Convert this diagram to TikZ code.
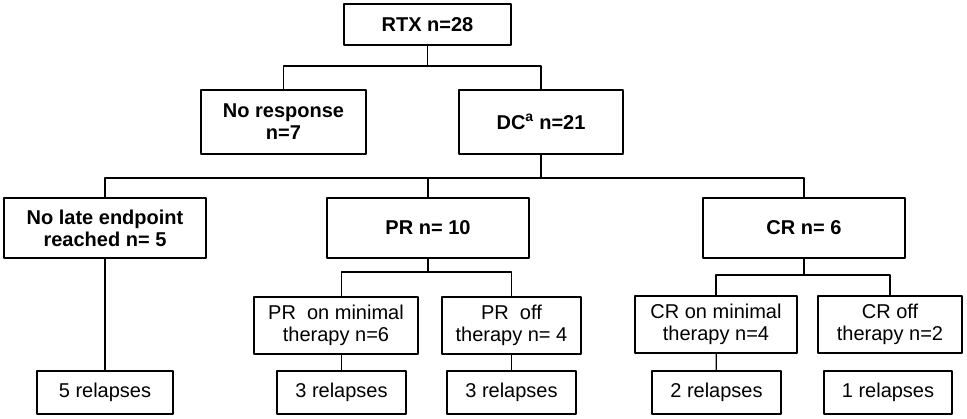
\documentclass[tikz,border=0pt]{standalone}
\usepackage{fontspec}
\setmainfont{Liberation Sans}
\begin{document}
\begin{tikzpicture}[x=1pt,y=-1pt, line width=1.2pt, line join=round, line cap=round,
  font=\fontsize{20}{22}\selectfont,
  boldbox/.style={draw, font=\fontsize{20}{22}\selectfont\bfseries, align=center, inner sep=0pt},
  plainbox/.style={draw, align=center, inner sep=0pt}]
\def \ya{66};
\def \yb{178};
\def \yc{272};
\def \yd{275};
\useasboundingbox (0,0) rectangle (967,418);
% top levels
\node[boldbox, minimum width=167pt, minimum height=41pt] (rtx) at (427.5,24.5) {RTX n=28};
\node[boldbox, minimum width=165pt, minimum height=64pt] (nores) at (283.5,122) {No response\\n=7};
\node[boldbox, minimum width=164pt, minimum height=64pt] (dc) at (541,122) {DC\textsuperscript{a} n=21};
\node[boldbox, minimum width=202pt, minimum height=60pt] (nolate) at (105,228) {No late endpoint\\reached n= 5};
\node[boldbox, minimum width=202pt, minimum height=60pt] (pr) at (428,228) {PR n= 10};
\node[boldbox, minimum width=202pt, minimum height=60pt] (cr) at (804,228) {CR n= 6};
% therapy boxes
\node[plainbox, minimum width=164pt, minimum height=57pt] (prmin) at (336,325.5) {PR\ \ on minimal\\therapy n=6};
\node[plainbox, minimum width=139pt, minimum height=57pt] (proff) at (511.5,325.5) {PR\ \ off\\therapy n= 4};
\node[plainbox, minimum width=162pt, minimum height=57pt] (crmin) at (716,324.5) {CR on minimal\\therapy n=4};
\node[plainbox, minimum width=144pt, minimum height=57pt] (croff) at (890,324.5) {CR off\\therapy n=2};
% relapses
\foreach \n/\x/\w/\t in {rela/105/136/5, relb/341.5/129/3, relc/511.5/129/3, reld/716.5/129/2, rele/888/128/1}
  {\node[plainbox, minimum width=\w pt, minimum height=43pt] (\n) at (\x,392.5) {\t\ relapses};}
% junctions
\coordinate (ja) at (427.5,\ya);
\coordinate (jb) at (541,\yb);
\coordinate (jc) at (428,\yc);
\coordinate (jd) at (804,\yd);
\draw (rtx) -- (ja) -| (nores);
\draw (ja) -| (dc);
\draw (dc) -- (jb) -| (nolate);
\draw (jb) -| (pr);
\draw (jb) -| (cr);
\draw (pr) -- (jc) -| (prmin.north -| relb.north);
\draw (jc) -| (proff);
\draw (cr) -- (jd) -| (crmin);
\draw (jd) -| (croff);
\draw (nolate) -- (rela);
\draw (relb) -- (relb |- prmin.south);
\draw (proff) -- (relc);
\draw (crmin) -- (reld);
\draw (croff) -- (rele |- croff.south);
\end{tikzpicture}
\end{document}
